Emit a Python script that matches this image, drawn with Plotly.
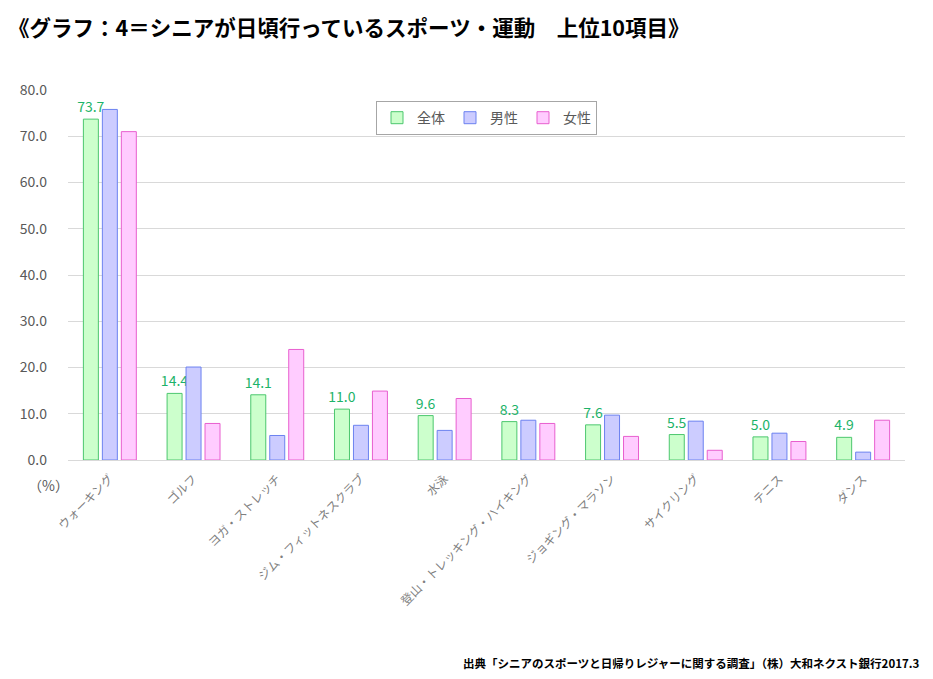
import plotly.graph_objects as go

categories = ["ウォーキング", "ゴルフ", "ヨガ・ストレッチ", "ジム・フィットネスクラブ", "水泳",
              "登山・トレッキング・ハイキング", "ジョギング・マラソン", "サイクリング", "テニス", "ダンス"]
total = [73.7, 14.4, 14.1, 11.0, 9.6, 8.3, 7.6, 5.5, 5.0, 4.9]
male = [75.8, 20.1, 5.3, 7.5, 6.4, 8.6, 9.7, 8.4, 5.8, 1.7]
female = [71.0, 7.9, 23.9, 14.9, 13.3, 7.9, 5.1, 2.1, 4.0, 8.6]
y_ticks = [0, 10, 20, 30, 40, 50, 60, 70, 80]

FONT = "Noto Sans CJK JP"
GRAY = "#595959"

fig = go.Figure()
fig.add_trace(go.Bar(
    x=categories, y=total, name="全体",
    marker=dict(color="#CCFFCC", line=dict(color="#4CC76E", width=1)),
    text=[f"{v:.1f}" for v in total], textposition="outside", constraintext="none",
    textfont=dict(color="#1DB369", size=14, family=FONT), cliponaxis=False,
))
fig.add_trace(go.Bar(
    x=categories, y=male, name="男性",
    marker=dict(color="#CCCCFF", line=dict(color="#6C82F0", width=1)),
))
fig.add_trace(go.Bar(
    x=categories, y=female, name="女性",
    marker=dict(color="#FFCCFF", line=dict(color="#E85FCF", width=1)),
))

# the page puts the figure 8px in from the top-left corner
fig.update_layout(
    width=925, height=671,
    margin=dict(l=56, r=28, t=82, b=219),
    paper_bgcolor="white", plot_bgcolor="white",
    font=dict(family=FONT, color=GRAY),
    barmode="group", bargap=0.32, bargroupgap=0.21,
    showlegend=True,
    legend=dict(orientation="h", x=0.5, xanchor="center", y=0.97, yanchor="top",
                bordercolor="#A6A6A6", borderwidth=1, font=dict(size=14, color=GRAY),
                itemwidth=30, traceorder="normal"),
    title=dict(text="<b>《グラフ：4＝シニアが日頃行っているスポーツ・運動　上位10項目》</b>",
               x=0.0, xanchor="left", y=0.97, yanchor="middle",
               font=dict(size=21.5, color="black", family=FONT)),
)
fig.update_yaxes(range=[0, 80], tickvals=y_ticks, tickformat=".1f",
                 gridcolor="#D9D9D9", gridwidth=1, zeroline=False, showline=False,
                 tickfont=dict(size=14, color=GRAY), ticklabelstandoff=20)
fig.update_xaxes(showline=True, linecolor="#D9D9D9", linewidth=1, tickangle=-45,
                 tickfont=dict(size=12, color="#7F7F7F"), ticklabelstandoff=6)

fig.add_annotation(text="（%）", xref="paper", yref="paper", x=-0.05, y=-0.068,
                   xanchor="left", yanchor="middle", showarrow=False,
                   font=dict(size=14, color=GRAY))
fig.add_annotation(text="<b>出典「シニアのスポーツと日帰りレジャーに関する調査」（株）大和ネクスト銀行2017.3</b>",
                   xref="paper", yref="paper", x=1.019, y=-0.549, xanchor="right", yanchor="middle",
                   showarrow=False, font=dict(size=11.5, color="black"))

fig.write_html("out.html")
